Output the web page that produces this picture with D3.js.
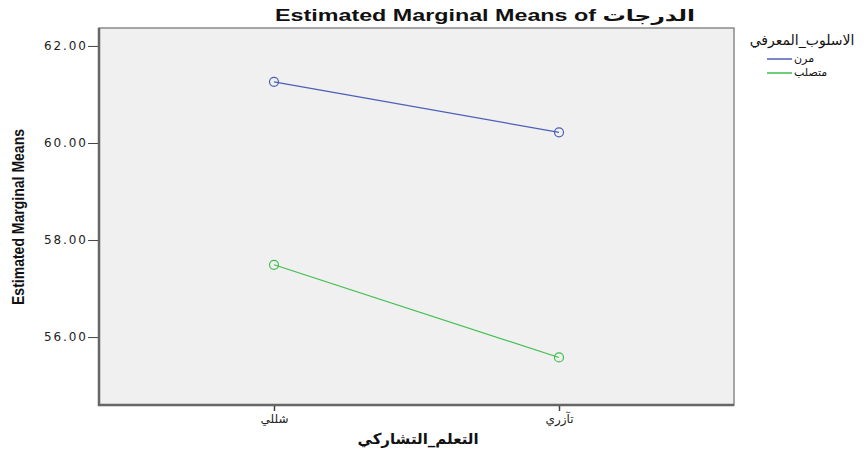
<!DOCTYPE html>
<html>
<head>
<meta charset="utf-8">
<script src="https://cdn.jsdelivr.net/npm/d3@7"></script>
<style>
  body { margin: 0; background: #fff; }
  text { font-family: "Liberation Sans", Arial, "DejaVu Sans", sans-serif; }
</style>
</head>
<body>
<div id="chart"></div>
<script>
// data
const categories = ["شللي", "تآزري"];
const seriesNames = ["مرن", "متصلب"];
const seriesColors = ["#4a5fb8", "#3fbf4c"];
const flexValues = [61.26, 60.22];
const rigidValues = [57.49, 55.58];
const yTicks = [56, 58, 60, 62];

const W = 866, H = 450;
const plot = { left: 99, top: 28, right: 734, bottom: 405 };

let svg = d3.select("#chart").append("svg").attr("width", W).attr("height", H);

let x = d3.scalePoint().domain(categories)
  .range([plot.left, plot.right]).padding(0.614);
let y = d3.scaleLinear().domain([54.6, 62.37]).range([plot.bottom, plot.top]);

// plot frame
svg.append("rect")
  .attr("x", plot.left).attr("y", plot.top)
  .attr("width", plot.right - plot.left).attr("height", plot.bottom - plot.top)
  .attr("fill", "#f0f0f0").attr("stroke", "#8a8a8a").attr("stroke-width", 1.5);
svg.append("path")
  .attr("d", `M${plot.left},${plot.top}V${plot.bottom}H${plot.right}`)
  .attr("fill", "none").attr("stroke", "#666").attr("stroke-width", 2.5);

// y axis
let yAxis = svg.append("g")
  .attr("transform", `translate(${plot.left - 1},0)`)
  .call(d3.axisLeft(y).tickValues(yTicks).tickSize(10).tickPadding(2)
    .tickFormat(d3.format(".2f")));
yAxis.select(".domain").remove();
yAxis.selectAll("line").attr("stroke", "#444");
yAxis.selectAll("text").attr("font-size", 12).attr("fill", "#222")
  .style("font-family", "'DejaVu Sans', sans-serif")
  .attr("textLength", 42).attr("lengthAdjust", "spacing");

// x axis
let xAxis = svg.append("g")
  .attr("transform", `translate(0,${plot.bottom + 1})`)
  .call(d3.axisBottom(x).tickSize(5).tickPadding(3));
xAxis.select(".domain").remove();
xAxis.selectAll("line").attr("stroke", "#444").attr("stroke-width", 1.5);
xAxis.selectAll("text").attr("font-size", 12).attr("fill", "#222")
  .style("font-family", "'DejaVu Sans', sans-serif");

// lines and markers
let series = [flexValues, rigidValues];
let line = d3.line().x((d, i) => x(categories[i])).y(d => y(d));

series.forEach((vals, s) => {
  svg.append("path")
    .datum(vals)
    .attr("d", line)
    .attr("fill", "none")
    .attr("stroke", seriesColors[s])
    .attr("stroke-width", 1.2);
  svg.selectAll(null)
    .data(vals)
    .enter().append("circle")
    .attr("cx", (d, i) => x(categories[i]))
    .attr("cy", d => y(d))
    .attr("r", 4.5)
    .attr("fill", "none")
    .attr("stroke", seriesColors[s])
    .attr("stroke-width", 1.2);
});

// titles
svg.append("text")
  .attr("x", 485).attr("y", 21)
  .attr("text-anchor", "middle")
  .attr("font-size", 16).attr("font-weight", "bold").attr("fill", "#111")
  .attr("textLength", 420).attr("lengthAdjust", "spacingAndGlyphs")
  .text("Estimated Marginal Means of الدرجات");

svg.append("text")
  .attr("transform", "translate(24,217) rotate(-90)")
  .attr("text-anchor", "middle")
  .attr("font-size", 16).attr("font-weight", "bold").attr("fill", "#111")
  .style("font-family", "'Liberation Sans Narrow', 'Liberation Sans', sans-serif")
  .attr("textLength", 176).attr("lengthAdjust", "spacingAndGlyphs")
  .text("Estimated Marginal Means");

svg.append("text")
  .attr("x", 418).attr("y", 444)
  .attr("text-anchor", "middle")
  .attr("font-size", 15).attr("font-weight", "bold").attr("fill", "#111")
  .style("font-family", "'DejaVu Sans', sans-serif")
  .text("التعلم_التشاركي");

// legend
let legend = svg.append("g");
legend.append("text")
  .attr("x", 802).attr("y", 45)
  .attr("text-anchor", "middle")
  .attr("font-size", 14).attr("fill", "#111")
  .style("font-family", "'DejaVu Sans', sans-serif")
  .text("الاسلوب_المعرفي");

seriesNames.forEach((name, i) => {
  let ly = 59 + i * 14;
  legend.append("line")
    .attr("x1", 767).attr("x2", 792)
    .attr("y1", ly).attr("y2", ly)
    .attr("stroke", seriesColors[i]).attr("stroke-width", 1.5);
  legend.append("text")
    .attr("x", 794).attr("y", ly + 3)
    .attr("font-size", 11).attr("fill", "#111")
    .style("font-family", "'DejaVu Sans', sans-serif")
    .text(name);
});
</script>
</body>
</html>
